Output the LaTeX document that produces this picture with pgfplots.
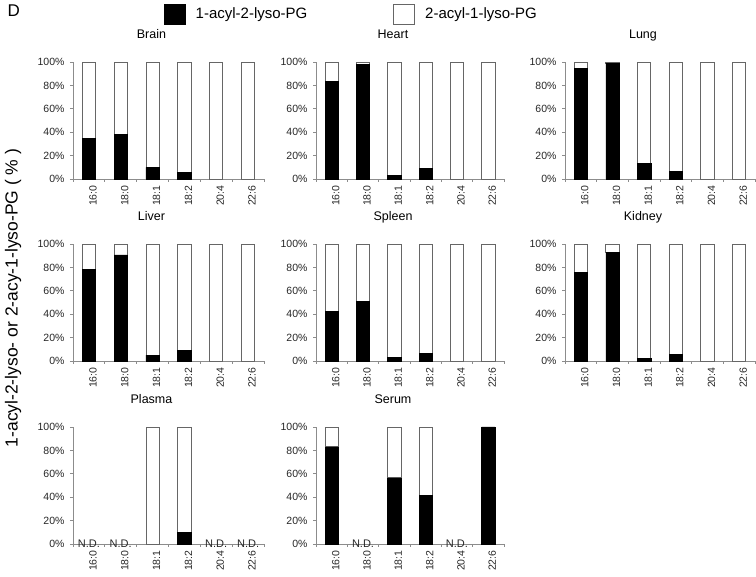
\documentclass[border=0pt]{standalone}
\usepackage{pgfplots}
\pgfplotsset{compat=1.18}
\usepackage{fontspec}
\setmainfont{Liberation Sans}

\tikzset{nd/.style={font=\fontsize{11}{13}\selectfont, text=black!85}}
\pgfplotsset{
 panel/.style={
  scale only axis, width=191pt, height=117pt, anchor=south west,
  ybar stacked, bar width=13.3pt,
  xmin=-0.5, xmax=5.5, ymin=0, ymax=100,
  axis lines*=left,
  axis line style={draw=gray!90, line width=0.8pt},
  xtick={0,...,5}, xticklabels={16:0,18:0,18:1,18:2,20:4,22:6},
  minor xtick={-0.5,0.5,...,5.5},
  major x tick style={draw=none},
  minor x tick style={draw=gray!90, line width=0.8pt},
  minor tick length=3pt,
  ytick={0,20,...,100},
  y tick style={draw=gray!90, line width=0.8pt},
  major tick length=3pt,
  tick align=outside,
  yticklabel={\pgfmathprintnumber{\tick}\%},
  /pgf/number format/assume math mode=true,
  tick label style={font=\fontsize{10.5}{12}\selectfont, text=black!85},
  xticklabel style={rotate=90, anchor=east, yshift=-4pt},
  yticklabel style={xshift=-2pt},
  title style={font=\fontsize{12.5}{15}\selectfont, at={(0.5,1)}, anchor=base, xshift=-17pt, yshift=17pt},
  clip=false,
  legend image code/.code={\draw[##1] (0pt,-10pt) rectangle (21pt,10pt);},
 },
 blk/.style={fill=black, draw=black, line width=0.6pt},
 wht/.style={fill=white, draw=black!60, line width=0.8pt},
}

\begin{document}
\begin{tikzpicture}
\path[use as bounding box] (0,0) rectangle (756pt,577pt);

% ---- Row 1
\begin{axis}[panel, at={(73pt,398pt)}, title={Brain},
  legend style={at={(0.476,1.41)}, anchor=west, draw=none, fill=none, inner sep=0pt,
    font=\fontsize{15}{18}\selectfont,
    /tikz/every odd column/.append style={column sep=8pt},
    /tikz/every even column/.append style={column sep=84pt}},
  legend columns=2]
\addplot[blk] coordinates {(0,35) (1,38) (2,10) (3,5.5) (4,0) (5,0)};
\addplot[wht] coordinates {(0,65) (1,62) (2,90) (3,94.5) (4,100) (5,100)};
\addlegendentry{1-acyl-2-lyso-PG}
\addlegendentry{2-acyl-1-lyso-PG}
\end{axis}

\begin{axis}[panel, width=188pt, at={(316pt,398pt)}, title={Heart}]
\addplot[blk] coordinates {(0,83.2) (1,98) (2,2.8) (3,9.1) (4,0) (5,0)};
\addplot[wht] coordinates {(0,16.8) (1,2) (2,97.2) (3,90.9) (4,100) (5,100)};
\end{axis}

\begin{axis}[panel, width=190pt, at={(565pt,398pt)}, title={Lung}]
\addplot[blk] coordinates {(0,94.6) (1,99) (2,13.4) (3,6.2) (4,0) (5,0)};
\addplot[wht] coordinates {(0,5.4) (1,1) (2,86.6) (3,93.8) (4,100) (5,100)};
\end{axis}

% ---- Row 2
\begin{axis}[panel, at={(73pt,216pt)}, title={Liver}]
\addplot[blk] coordinates {(0,78.6) (1,90.6) (2,5.1) (3,8.8) (4,0) (5,0)};
\addplot[wht] coordinates {(0,21.4) (1,9.4) (2,94.9) (3,91.2) (4,100) (5,100)};
\end{axis}

\begin{axis}[panel, width=188pt, at={(316pt,216pt)}, title={Spleen}]
\addplot[blk] coordinates {(0,42.2) (1,50.7) (2,2.8) (3,6.3) (4,0) (5,0)};
\addplot[wht] coordinates {(0,57.8) (1,49.3) (2,97.2) (3,93.7) (4,100) (5,100)};
\end{axis}

\begin{axis}[panel, width=190pt, at={(565pt,216pt)}, title={Kidney}]
\addplot[blk] coordinates {(0,75.5) (1,92.6) (2,2.3) (3,5.7) (4,0) (5,0)};
\addplot[wht] coordinates {(0,24.5) (1,7.4) (2,97.7) (3,94.3) (4,100) (5,100)};
\end{axis}

% ---- Row 3
\begin{axis}[panel, at={(73pt,33pt)}, title={Plasma}]
\addplot[blk] coordinates {(2,0) (3,10)};
\addplot[wht] coordinates {(2,100) (3,90)};
\node[nd] at (axis cs:0,0) {N.D.};
\node[nd] at (axis cs:1,0) {N.D.};
\node[nd] at (axis cs:4,0) {N.D.};
\node[nd] at (axis cs:5,0) {N.D.};
\end{axis}

\begin{axis}[panel, width=188pt, at={(316pt,33pt)}, title={Serum}]
\addplot[blk] coordinates {(0,83) (2,56.5) (3,41.5) (5,100)};
\addplot[wht] coordinates {(0,17) (2,43.5) (3,58.5) (5,0)};
\node[nd] at (axis cs:1,0) {N.D.};
\node[nd] at (axis cs:4,0) {N.D.};
\end{axis}

% ---- labels
\node[anchor=base west, font=\fontsize{17}{20}\selectfont] at (4pt,560pt) {D};
\node[rotate=90, font=\fontsize{17.5}{21}\selectfont] at (13pt,279pt) {1-acyl-2-lyso- or 2-acy-1-lyso-PG ( \% )};
\end{tikzpicture}
\end{document}
